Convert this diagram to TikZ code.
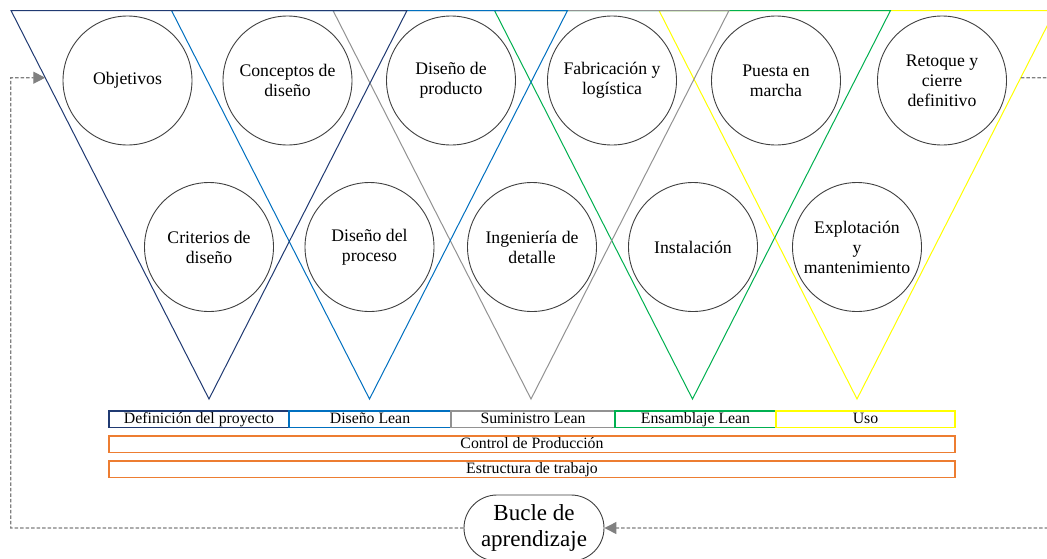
\documentclass[tikz,border=0pt]{standalone}
\usepackage{fontspec}
\setmainfont{Liberation Serif}
\usetikzlibrary{calc,arrows.meta}
\definecolor{navy}{HTML}{203A72}
\definecolor{lblue}{HTML}{0070C0}
\definecolor{mgray}{HTML}{929292}
\definecolor{lgreen}{HTML}{00B050}
\definecolor{lyellow}{HTML}{FFFF00}
\definecolor{orng}{HTML}{ED7D31}
\definecolor{loopgray}{HTML}{808080}
\definecolor{ringgray}{HTML}{404040}

\begin{document}
\begin{tikzpicture}[x=1pt,y=-1pt,
  phase/.style={line width=1pt,line join=miter},
  stage/.style={circle,draw=ringgray,fill=white,line width=0.9pt,minimum size=129pt,
    inner sep=0pt,align=center,font=\fontsize{17.7}{20}\selectfont},
  bar/.style={draw,fill=white,line width=1.2pt,minimum height=16.5pt,inner sep=0pt,
    text height=12pt,text depth=3pt,font=\fontsize{15.8}{18}\selectfont},
  bubble/.style={draw=ringgray,fill=white,line width=0.9pt,rectangle,rounded corners=33pt,
    minimum width=140pt,minimum height=66pt,inner sep=0pt,align=center,
    font=\fontsize{23}{25.5}\selectfont},
  feedback/.style={draw=loopgray,line width=1.3pt,dash pattern=on 3.5pt off 2pt},
  tip/.style={-{Triangle[length=12pt,width=12pt,fill=loopgray]}}
]
\useasboundingbox (0,0) rectangle (1047,558);
\fill[white] (0,0) rectangle (1047,558);
\clip (0,0) rectangle (1047,558);

% corners of the five inverted phase triangles
\coordinate (A1) at (209,399);   \coordinate (L1) at (11,10.5);  \coordinate (R1) at (407,10.5);
\coordinate (A2) at (369.5,399); \coordinate (L2) at (171.5,10.5); \coordinate (R2) at (567.5,10.5);
\coordinate (A3) at (531,399);   \coordinate (L3) at (333,10.5); \coordinate (R3) at (729,10.5);
\coordinate (A4) at (692.5,399); \coordinate (L4) at (494.5,10.5); \coordinate (R4) at (890.5,10.5);
\coordinate (A5) at (857,399);   \coordinate (L5) at (659,10.5); \coordinate (R5) at (1055,10.5);

% triangles, last phase first so earlier ones sit on top
\draw[phase,lyellow] (L5) -- (R5) -- (A5) -- cycle;
\draw[phase,lgreen]  (L4) -- (R4) -- (A4) -- cycle;
\draw[phase,mgray]   (L3) -- (R3) -- (A3) -- cycle;
\draw[phase,lblue]   (L2) -- (R2) -- (A2) -- cycle;
\draw[phase,navy]    (L1) -- (R1) -- (A1) -- cycle;

% stages, upper row
\node[stage] (obj)  at (127.5,80.5) {Objetivos};
\node[stage] (conc) at (287.5,80.5) {Conceptos de\\diseño};
\node[stage] (dprod) at (451,80.5) {Diseño de\\producto};
\node[stage] (fab)  at (612,80.5) {Fabricación y\\logística};
\node[stage] (pues) at (776,80.5) {Puesta en\\marcha};
\node[stage] (ret)  at (942,80.5) {Retoque y\\cierre\\definitivo};

% stages, lower row
\node[stage] (crit) at (209,247) {Criterios de\\diseño};
\node[stage] (dproc) at (369.5,247) {Diseño del\\proceso};
\node[stage] (ing)  at (532,247) {Ingeniería de\\detalle};
\node[stage] (inst) at (693,247) {Instalación};
\node[stage] (expl) at (857,247) {Explotación\\y\\mantenimiento};

% phase bars and transversal bars
\node[bar,draw=navy,minimum width=180pt]   (b1) at (199,419.3)   {Definición del proyecto};
\node[bar,draw=lblue,minimum width=162pt]  (b2) at (370,419.3)   {Diseño Lean};
\node[bar,draw=mgray,minimum width=164pt]  (b3) at (533,419.3)   {Suministro Lean};
\node[bar,draw=lgreen,minimum width=161pt] (b4) at (695.5,419.3) {Ensamblaje Lean};
\node[bar,draw=lyellow,minimum width=179pt] (b5) at (865.5,419.3) {Uso};
\node[bar,draw=orng,minimum width=846pt] (ctrl) at (532,444.2) {Control de Producción};
\node[bar,draw=orng,minimum width=846pt] (estr) at (532,469.2) {Estructura de trabajo};

% learning loop
\node[bubble] (bucle) at (534,528) {Bucle de\\aprendizaje};
\coordinate (fbin)  at ($(L1)!0.173!(A1)$);
\coordinate (fbout) at ($(R5)!0.173!(A5)$);
\coordinate (fbleft)  at (10.7,77.7);
\coordinate (fbright) at (1065,77.7);
\draw[feedback,tip] (fbout) -- (fbright) |- (bucle.east);
\draw[feedback,tip] (bucle.west) -| (fbleft) -- (fbin);
\end{tikzpicture}
\end{document}
